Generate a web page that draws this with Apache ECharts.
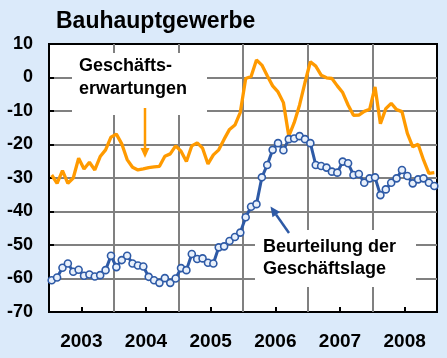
<!DOCTYPE html>
<html><head><meta charset="utf-8">
<script src="https://cdn.jsdelivr.net/npm/echarts@6/dist/echarts.min.js"></script>
<style>html,body{margin:0;padding:0;background:#dbeafa;}#c{width:447px;height:358px;}</style>
</head><body><div id="c"></div>
<script>
// ---- data ----
const years = ['2003', '2004', '2005', '2006', '2007', '2008'];
const monthNames = ['01','02','03','04','05','06','07','08','09','10','11','12'];
const months = [];
years.forEach(function (y) { monthNames.forEach(function (m) { months.push(y + '-' + m); }); });
const yTickLabels = ['-70', '-60', '-50', '-40', '-30', '-20', '-10', '0', '10'];

// Geschäftserwartungen (orange)
const erwartungen = [
  -29.1, -31.6, -27.8, -31.6, -30.0, -24.1, -27.3, -25.3, -27.6, -23.6, -21.6, -17.8,
  -16.9, -19.8, -24.5, -26.8, -27.6, -27.3, -26.9, -26.7, -26.5, -23.5, -22.8, -20.4,
  -22.0, -25.1, -20.4, -19.5, -21.1, -25.8, -23.1, -21.6, -18.4, -15.5, -14.2, -10.4,
  -0.3, 0.3, 5.2, 3.7, 0.5, -2.5, -4.3, -7.5, -17.5, -13.5, -8.2, -1.5,
  4.7, 3.4, 0.7, -0.1, -0.3, -2.5, -4.5, -8.2, -11.3, -11.2, -10.1, -9.5,
  -2.8, -13.8, -9.3, -7.7, -9.6, -10.2, -16.7, -20.7, -19.9, -24.6, -28.6, -28.4
];
// Beurteilung der Geschäftslage (blue)
const lage = [
  -60.5, -59.7, -56.8, -55.5, -58.0, -57.4, -59.2, -58.8, -59.4, -59.0, -57.5, -53.2,
  -56.6, -54.5, -53.2, -55.5, -56.1, -56.4, -59.5, -60.5, -61.3, -59.9, -61.3, -60.0,
  -56.9, -57.5, -52.7, -54.2, -54.0, -55.3, -55.5, -50.7, -50.4, -48.8, -47.6, -46.3,
  -41.7, -38.6, -37.8, -29.8, -26.1, -21.6, -19.6, -21.7, -18.4, -18.2, -17.5, -18.4,
  -19.6, -26.1, -26.4, -26.9, -28.1, -28.4, -25.1, -25.6, -29.1, -28.8, -31.4, -30.1,
  -29.8, -35.1, -33.4, -31.4, -30.1, -27.6, -29.4, -31.6, -30.4, -30.1, -31.4, -32.4
];

const FONT = '"Liberation Sans", Arial, sans-serif';
const GRIDC = '#808080';
const BLUE = '#2e5aa6';
const ORANGE = '#ff9a00';

const chart = echarts.init(document.getElementById('c'), null, { renderer: 'canvas' });
chart.setOption({
  animation: false,
  backgroundColor: '#dbeafa',
  grid: {
    left: 49, right: 10, top: 44, bottom: 46,
    show: true, backgroundColor: '#ffffff', borderColor: '#000000', borderWidth: 2,
    containLabel: false, outerBoundsMode: 'none'
  },
  xAxis: [
    {
      type: 'category', data: months, boundaryGap: true,
      axisLine: { show: false }, axisTick: { show: false }, axisLabel: { show: false },
      splitLine: { show: true, interval: 11, showMinLine: false, showMaxLine: false,
        lineStyle: { color: GRIDC, width: 2 } }
    },
    {
      type: 'category', data: years, boundaryGap: true, position: 'bottom',
      axisLine: { show: false },
      axisTick: { show: true, inside: true, alignWithLabel: true, length: 5,
        lineStyle: { color: '#000', width: 2 } },
      axisLabel: { show: true, margin: 20, color: '#000', fontWeight: 'bold', fontSize: 19, fontFamily: FONT },
      splitLine: { show: false }
    }
  ],
  yAxis: {
    type: 'value', min: -70, max: 10, interval: 10,
    axisLine: { show: false },
    axisTick: { show: true, inside: true, length: 5, lineStyle: { color: '#000', width: 2 } },
    axisLabel: {
      margin: 16, color: '#000', fontWeight: 'bold', fontSize: 18, fontFamily: FONT,
      formatter: function (v) { return yTickLabels[Math.round((v + 70) / 10)]; }
    },
    splitLine: { show: true, showMinLine: false, showMaxLine: false, lineStyle: { color: GRIDC, width: 2 } }
  },
  series: [
    {
      name: 'Geschäftserwartungen', type: 'line', xAxisIndex: 0, data: erwartungen,
      showSymbol: false, smooth: false, z: 3,
      lineStyle: { color: ORANGE, width: 3.3 }, itemStyle: { color: ORANGE }
    },
    {
      name: 'Beurteilung der Geschäftslage', type: 'line', xAxisIndex: 0, data: lage,
      symbol: 'circle', symbolSize: 7, showAllSymbol: true, z: 4,
      lineStyle: { color: BLUE, width: 3 },
      itemStyle: { color: '#e8f0fb', borderColor: BLUE, borderWidth: 1.6 }
    }
  ],
  graphic: [
    { type: 'text', z: 10, style: { x: 56, y: 22, text: 'Bauhauptgewerbe', font: 'bold 23px ' + FONT, fill: '#000', verticalAlign: 'middle' } },
    { type: 'rect', z: 5, shape: { x: 72, y: 53, width: 135, height: 62 }, style: { fill: '#ffffff' } },
    { type: 'text', z: 6, style: { x: 79, y: 66, text: 'Geschäfts-', font: 'bold 18px ' + FONT, fill: '#000', verticalAlign: 'middle' } },
    { type: 'text', z: 6, style: { x: 79, y: 89, text: 'erwartungen', font: 'bold 18px ' + FONT, fill: '#000', verticalAlign: 'middle' } },
    { type: 'rect', z: 5, shape: { x: 255, y: 230, width: 161, height: 57 }, style: { fill: '#ffffff' } },
    { type: 'text', z: 6, style: { x: 263, y: 247.5, text: 'Beurteilung der', font: 'bold 18px ' + FONT, fill: '#000', verticalAlign: 'middle' } },
    { type: 'text', z: 6, style: { x: 263, y: 269.5, text: 'Geschäftslage', font: 'bold 18px ' + FONT, fill: '#000', verticalAlign: 'middle' } },
    { type: 'line', z: 7, shape: { x1: 145, y1: 108, x2: 145, y2: 149 }, style: { stroke: ORANGE, lineWidth: 2.5 } },
    { type: 'polygon', z: 7, shape: { points: [[140.5, 148], [149.5, 148], [145, 158]] }, style: { fill: ORANGE } },
    { type: 'line', z: 7, shape: { x1: 289, y1: 233, x2: 276, y2: 214.5 }, style: { stroke: BLUE, lineWidth: 2.5 } },
    { type: 'polygon', z: 7, shape: { points: [[280, 212], [272.5, 217.3], [270.5, 206.5]] }, style: { fill: BLUE } }
  ]
});
</script></body></html>
